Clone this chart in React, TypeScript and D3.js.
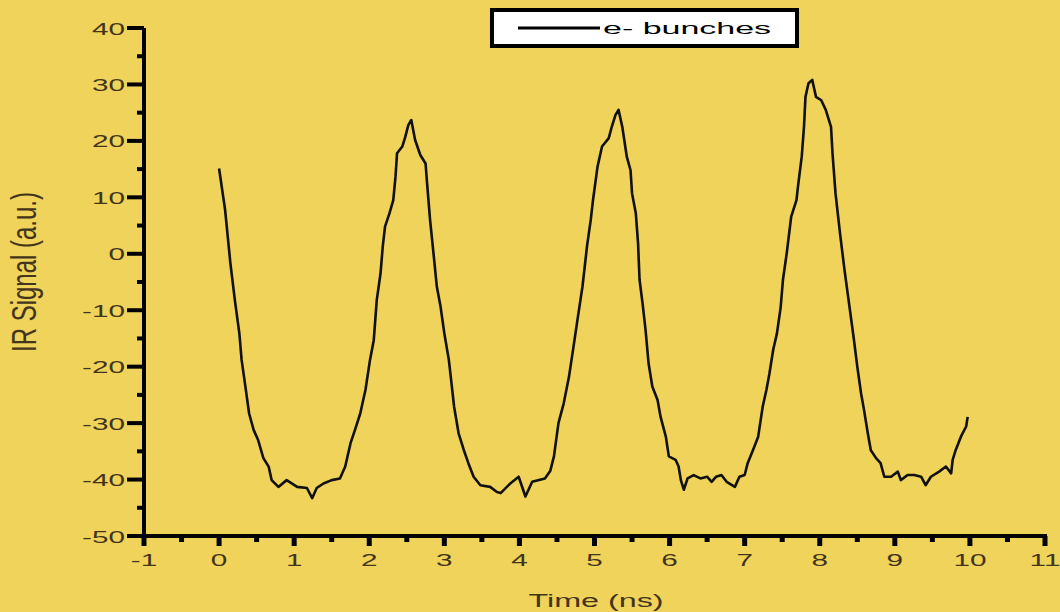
import React from "react";
import * as d3 from "d3";

// IR signal trace of electron bunches versus time
const timeNs = [
  0, 0.08, 0.15, 0.21, 0.27, 0.3, 0.35, 0.4, 0.46, 0.52, 0.59, 0.66, 0.7, 0.79, 0.9, 1.04, 1.17, 1.24, 1.3, 1.39,
  1.5, 1.61, 1.68, 1.75, 1.81, 1.88, 1.95, 2.01, 2.06, 2.1, 2.15, 2.18, 2.21, 2.27, 2.32, 2.35, 2.37, 2.44, 2.48,
  2.52, 2.56, 2.61, 2.68, 2.75, 2.77, 2.81, 2.86, 2.9, 2.95, 3.0, 3.06, 3.1, 3.13, 3.19, 3.26, 3.32, 3.39, 3.48,
  3.61, 3.7, 3.75, 3.87, 3.99, 4.08, 4.17, 4.34, 4.41, 4.46, 4.52, 4.59, 4.66, 4.72, 4.78, 4.84, 4.9, 4.95, 4.98,
  5.04, 5.1, 5.19, 5.23, 5.28, 5.32, 5.37, 5.43, 5.48, 5.5, 5.55, 5.58, 5.6, 5.64, 5.68, 5.72, 5.77, 5.84, 5.88,
  5.95, 5.99, 6.08, 6.12, 6.15, 6.19, 6.24, 6.32, 6.41, 6.5, 6.56, 6.62, 6.69, 6.76, 6.87, 6.93, 7.0, 7.04, 7.11,
  7.18, 7.24, 7.29, 7.33, 7.38, 7.43, 7.48, 7.51, 7.56, 7.62, 7.69, 7.71, 7.76, 7.79, 7.81, 7.85, 7.9, 7.95, 8.02,
  8.08, 8.15, 8.17, 8.21, 8.27, 8.33, 8.39, 8.45, 8.5, 8.55, 8.59, 8.64, 8.68, 8.75, 8.81, 8.86, 8.95, 9.04, 9.08,
  9.17, 9.26, 9.35, 9.41, 9.48, 9.59, 9.68, 9.75, 9.77, 9.81, 9.88, 9.95, 9.97,
];

const irSignal = [
  15.1, 7.8, -1.6, -8.2, -14.1, -18.8, -23.5, -28.3, -31.2, -33, -36.2, -37.7, -40.1, -41.3, -40.1, -41.3, -41.5,
  -43.3, -41.5, -40.7, -40.1, -39.8, -37.7, -33.6, -31.2, -28.3, -24.1, -18.8, -15.3, -8.2, -3.5, 1.3, 4.8, 7.2,
  9.5, 13.7, 17.8, 19, 20.7, 22.8, 23.7, 20.2, 17.5, 16, 12.5, 6, -0.5, -5.8, -9.4, -14.1, -18.8, -23.5, -27.1,
  -31.8, -34.8, -37.1, -39.5, -41, -41.3, -42.2, -42.4, -40.8, -39.5, -43, -40.4, -39.8, -38.5, -35.9, -30, -26.5,
  -21.8, -16.5, -11.1, -5.8, 1.3, 6, 9.5, 15.4, 19, 20.5, 22.5, 24.6, 25.5, 22.5, 17.2, 14.8, 10.7, 7.2, 1.9, -4.6,
  -8.8, -13.5, -19.4, -23.5, -25.9, -28.9, -32.4, -35.9, -36.5, -37.7, -40.1, -41.8, -39.8, -39.2, -39.8, -39.5,
  -40.4, -39.5, -39.2, -40.4, -41.3, -39.5, -39.2, -37.1, -34.8, -32.4, -27.1, -24.1, -21.2, -17, -14.1, -9.4,
  -4.6, 0.1, 6.6, 9.5, 11.9, 17.2, 22.5, 27.8, 30.2, 30.8, 27.8, 27.2, 25.5, 22.5, 17.8, 10.7, 3.6, -2.9, -8.8,
  -14.7, -20, -24.7, -27.7, -31.8, -34.8, -36.2, -37.1, -39.5, -39.5, -38.6, -40.1, -39.2, -39.2, -39.5, -41,
  -39.5, -38.6, -37.7, -38.9, -36.5, -34.8, -32.4, -30.6, -28.9,
];

const xTickValues = [-1, 0, 1, 2, 3, 4, 5, 6, 7, 8, 9, 10, 11];
const yTickValues = [-50, -40, -30, -20, -10, 0, 10, 20, 30, 40];
const xMinorValues = [-0.5, 0.5, 1.5, 2.5, 3.5, 4.5, 5.5, 6.5, 7.5, 8.5, 9.5, 10.5];
const yMinorValues = [-45, -35, -25, -15, -5, 5, 15, 25, 35];

const seriesName = "e- bunches";
const xTitle = "Time (ns)";
const yTitle = "IR Signal (a.u.)";

const W = 1060;
const H = 612;
const BG = "#F0D35A";
const TEXT = "#43351c";
const FONT = "'Liberation Sans', Arial, sans-serif";

export default function App() {
  const x = d3.scaleLinear().domain([-1, 11]).range([144, 1045]);
  const y = d3.scaleLinear().domain([-50, 40]).range([536, 28]);

  const points = timeNs.map((t, i) => [t, irSignal[i]] as [number, number]);
  const line = d3
    .line<[number, number]>()
    .x((d) => x(d[0]))
    .y((d) => y(d[1]));

  const x0 = x(-1);
  const y0 = y(-50);
  const tickSX = 1.75;

  return (
    <svg
      width={W}
      height={H}
      style={{ position: "absolute", left: 0, top: 0, display: "block" }}
      fontFamily={FONT}
    >
      <rect x={0} y={0} width={W} height={H} fill={BG} />

      {/* axes */}
      <line x1={x0} y1={y(40)} x2={x0} y2={y0 + 10} stroke="#000" strokeWidth={4} />
      <line x1={x0 - 2} y1={y0} x2={x(11) + 2} y2={y0} stroke="#000" strokeWidth={4} />

      {xTickValues.map((v) => (
        <line key={"xt" + v} x1={x(v)} x2={x(v)} y1={y0} y2={y0 + 10} stroke="#000" strokeWidth={5} />
      ))}
      {xMinorValues.map((v) => (
        <line key={"xm" + v} x1={x(v)} x2={x(v)} y1={y0} y2={y0 + 6} stroke="#000" strokeWidth={5} />
      ))}
      {yTickValues.map((v) => (
        <line key={"yt" + v} x1={x0 - 17} x2={x0} y1={y(v)} y2={y(v)} stroke="#000" strokeWidth={4} />
      ))}
      {yMinorValues.map((v) => (
        <line key={"ym" + v} x1={x0 - 7} x2={x0} y1={y(v)} y2={y(v)} stroke="#000" strokeWidth={4} />
      ))}

      {/* tick labels */}
      {xTickValues.map((v) => (
        <text
          key={"xl" + v}
          transform={`translate(${x(v)},566) scale(${tickSX},1)`}
          textAnchor="middle"
          fontSize={17}
          fill={TEXT}
        >
          {v}
        </text>
      ))}
      {yTickValues.map((v) => (
        <text
          key={"yl" + v}
          transform={`translate(125,${y(v) + 6.5}) scale(${tickSX},1)`}
          textAnchor="end"
          fontSize={17}
          fill={TEXT}
        >
          {v}
        </text>
      ))}

      {/* axis titles */}
      <text
        transform={`translate(596,607) scale(1.7,1)`}
        textAnchor="middle"
        fontSize={19}
        fill={TEXT}
      >
        {xTitle}
      </text>
      <g transform="translate(36,272)">
        <text
          transform="scale(1.5,1) rotate(-90)"
          textAnchor="middle"
          fontSize={24}
          fill={TEXT}
        >
          {yTitle}
        </text>
      </g>

      {/* signal trace */}
      <path d={line(points) || ""} fill="none" stroke="#111" strokeWidth={2.6} strokeLinejoin="round" />

      {/* legend */}
      <rect x={492} y={10} width={305} height={36} fill="#fff" stroke="#000" strokeWidth={4} />
      <line x1={518} x2={600} y1={28} y2={28} stroke="#000" strokeWidth={3} />
      <text
        transform={`translate(603,34) scale(2,1)`}
        fontSize={17}
        fill="#000"
      >
        {seriesName}
      </text>
    </svg>
  );
}
